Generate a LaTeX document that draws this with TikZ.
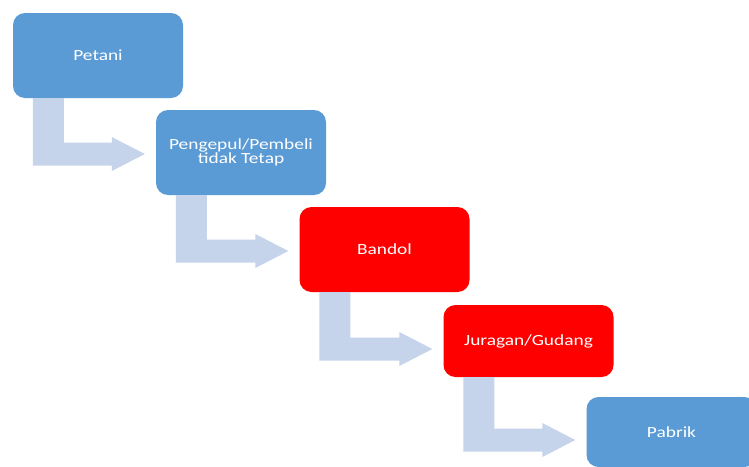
\documentclass[tikz,border=0pt]{standalone}
\usepackage{fontspec}
\setmainfont{Carlito}
\usetikzlibrary{calc}
\definecolor{boxblue}{HTML}{5B9BD5}
\definecolor{boxred}{HTML}{FF0000}
\definecolor{arrowblue}{HTML}{C5D4EA}
\newcommand{\wide}[1]{\scalebox{1.25}[1]{#1}}
% bent arrow from the bottom of #1 to the left of #2, #3 = shift of the head
\newcommand{\bentarrow}[3]{%
  \fill[bent] let \p1=($(#1.south west)+(20,0)$), \p2=($(#2.west)+(-11,#3)$) in
    (\x1,\y1) -- (\x1+31pt,\y1) -- (\x1+31pt,\y2+11.5pt) -- (\x2-33pt,\y2+11.5pt)
    -- (\x2-33pt,\y2+17pt) -- (\x2,\y2) -- (\x2-33pt,\y2-17pt)
    -- (\x2-33pt,\y2-11.5pt) -- (\x1,\y2-11.5pt) -- cycle;}

\begin{document}
\begin{tikzpicture}[x=1pt,y=-1pt,
  stage/.style={rounded corners=12pt,minimum width=170pt,minimum height=85pt,
    inner sep=0pt,text=white,align=center,font=\fontsize{15.5}{13}\selectfont},
  bluestage/.style={stage,fill=boxblue},
  redstage/.style={stage,fill=boxred},
  bent/.style={fill=arrowblue}]
\useasboundingbox (0,0) rectangle (749,466);
\clip (0,0) rectangle (749,466);
\fill[white] (0,0) rectangle (749,466);

\node[bluestage] (petani) at (98,55.5) {\wide{Petani}};
\node[bluestage] (pengepul) at (241,152.5) {\wide{Pengepul/Pembeli}\\\wide{tidak Tetap}};
\node[redstage] (bandol) at (384.5,249.5) {\wide{Bandol}};
\node[redstage,minimum height=72pt] (juragan) at (528.5,341) {\wide{Juragan/Gudang}};
\node[bluestage,minimum height=70pt] (pabrik) at (671.5,432) {\wide{Pabrik}};

\bentarrow{petani}{pengepul}{1.5}
\bentarrow{pengepul}{bandol}{1.5}
\bentarrow{bandol}{juragan}{8}
\bentarrow{juragan}{pabrik}{8}
\end{tikzpicture}
\end{document}
